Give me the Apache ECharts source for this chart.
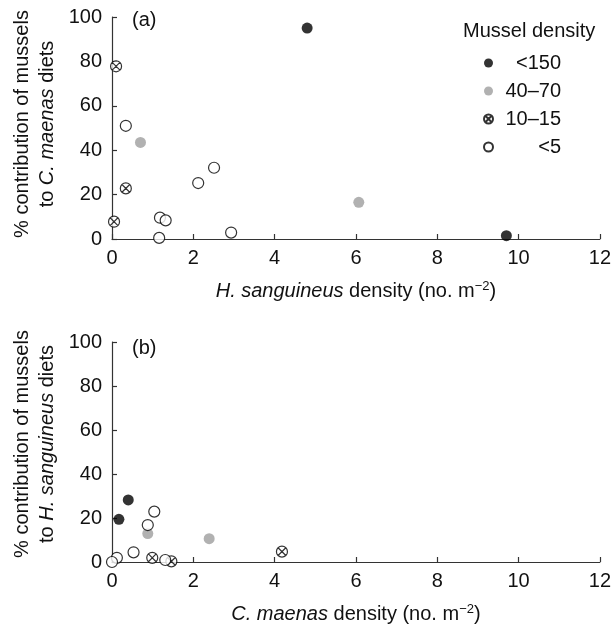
<!DOCTYPE html>
<html>
<head>
<meta charset="utf-8">
<script src="https://cdn.jsdelivr.net/npm/echarts@6/dist/echarts.min.js"></script>
<style>
  html, body { margin: 0; padding: 0; background: #fff; }
  #main { width: 614px; height: 627px; }
</style>
</head>
<body>
<div id="main"></div>
<script>
// mussel density classes (legend)
const classNames = ['<150', '40–70', '10–15', '<5'];

// panel (a): H. sanguineus density vs % mussels in C. maenas diets
const aBlackX = [4.8, 9.7];
const aBlackY = [95, 1.5];
const aGrayX = [0.7, 6.07];
const aGrayY = [43.5, 16.5];
const aCrossX = [0.1, 0.34, 0.05];
const aCrossY = [77.8, 22.8, 7.8];
const aOpenX = [0.34, 2.12, 2.51, 1.18, 1.32, 1.16, 2.93];
const aOpenY = [51, 25.2, 32.1, 9.6, 8.4, 0.5, 2.9];

// panel (b): C. maenas density vs % mussels in H. sanguineus diets
const bBlackX = [0.17, 0.4];
const bBlackY = [19.4, 28.2];
const bGrayX = [0.88, 2.39];
const bGrayY = [12.9, 10.6];
const bCrossX = [0.99, 1.46, 4.18];
const bCrossY = [1.9, 0.3, 4.7];
const bOpenX = [1.04, 0.88, 0.53, 0.12, 0.0, 1.31];
const bOpenY = [22.9, 16.8, 4.4, 1.9, 0.0, 0.9];

const xTicks = [0, 2, 4, 6, 8, 10, 12];
const yTicks = [0, 20, 40, 60, 80, 100];

// 带叉的圆圈
const crossSymbol = 'path://M10,0A10,10,0,1,1,10,20A10,10,0,1,1,10,0ZM2.93,2.93L17.07,17.07M17.07,2.93L2.93,17.07';

function zip(xs, ys) {
    return xs.map((x, i) => [x, ys[i]]);
}

const ink = '#111';
const font = '"Liberation Sans", Arial, Helvetica, sans-serif';
const fs = 20;

function xAxisFor(gridIndex, species) {
    return {
        type: 'value', gridIndex: gridIndex,
        min: xTicks[0], max: xTicks[xTicks.length - 1], interval: 2,
        axisLine: { lineStyle: { color: '#333', width: 1.2 } },
        axisTick: { inside: true, length: 5, lineStyle: { color: '#333', width: 1.2 } },
        splitLine: { show: false },
        axisLabel: { color: ink, fontSize: fs, fontFamily: font, margin: 9 },
        name: '{i|' + species + '}{n| density (no. m}{s|−2}{n|)}',
        nameLocation: 'middle', nameGap: 41,
        nameTextStyle: {
            rich: {
                i: { fontSize: fs, fontStyle: 'italic', fontFamily: font, color: ink },
                n: { fontSize: fs, fontFamily: font, color: ink },
                s: { fontSize: 13, fontFamily: font, color: ink, padding: [0, 0, 10, 0] }
            }
        }
    };
}

function yAxisFor(gridIndex, species, shift) {
    return {
        type: 'value', gridIndex: gridIndex,
        min: yTicks[0], max: yTicks[yTicks.length - 1], interval: 20,
        axisLine: { show: true, lineStyle: { color: '#333', width: 1.2 } },
        axisTick: { show: true, inside: true, length: 5, lineStyle: { color: '#333', width: 1.2 } },
        splitLine: { show: false },
        axisLabel: { color: ink, fontSize: fs, fontFamily: font, margin: 10 },
        name: '{n|% contribution of mussels}\n{n|to }{i|' + species + '}{n| diets}',
        nameLocation: 'middle', nameGap: 48, nameRotate: 90,
        nameTextStyle: {
            align: 'center',
            padding: [0, 0, 0, shift],
            rich: {
                i: { fontSize: fs, fontStyle: 'italic', fontFamily: font, color: ink, lineHeight: 25 },
                n: { fontSize: fs, fontFamily: font, color: ink, lineHeight: 25 }
            }
        }
    };
}

const styles = [
    { symbol: 'circle', size: 11, itemStyle: { color: '#000', borderColor: '#000', borderWidth: 0 } },
    { symbol: 'circle', size: 11, itemStyle: { color: '#9d9d9d', borderColor: '#9d9d9d', borderWidth: 0 } },
    { symbol: crossSymbol, size: 11, itemStyle: { color: '#fff', borderColor: '#000', borderWidth: 1.2 } },
    { symbol: 'circle', size: 11, itemStyle: { color: '#fff', borderColor: '#000', borderWidth: 1.2 } }
];

const panelData = [
    [zip(aBlackX, aBlackY), zip(aGrayX, aGrayY), zip(aCrossX, aCrossY), zip(aOpenX, aOpenY)],
    [zip(bBlackX, bBlackY), zip(bGrayX, bGrayY), zip(bCrossX, bCrossY), zip(bOpenX, bOpenY)]
];

let series = [];
panelData.forEach(function (groups, p) {
    groups.forEach(function (pts, k) {
        series.push({
            type: 'scatter', name: classNames[k],
            xAxisIndex: p, yAxisIndex: p,
            symbol: styles[k].symbol, symbolSize: styles[k].size,
            itemStyle: styles[k].itemStyle,
            emphasis: { disabled: true },
            clip: false,
            data: pts,
            z: 3 + k
        });
    });
});

const myChart = echarts.init(document.getElementById('main'), null, { renderer: 'canvas' });

const option = {
    backgroundColor: '#fff',
    animation: false,
    title: [
        { text: '(a)', left: 127, top: 5, textStyle: { fontSize: fs, fontWeight: 'normal', fontFamily: font, color: ink } },
        { text: '(b)', left: 127, top: 333, textStyle: { fontSize: fs, fontWeight: 'normal', fontFamily: font, color: ink } },
        { text: 'Mussel density', left: 458, top: 16, textStyle: { fontSize: fs, fontWeight: 'normal', fontFamily: font, color: ink } }
    ],
    legend: {
        orient: 'vertical', left: 483, top: 53, padding: 0,
        itemWidth: 9, itemHeight: 9, itemGap: 8, selectedMode: false,
        data: classNames.map(function (n, k) {
            return { name: n, icon: styles[k].symbol };
        }),
        formatter: function (name) { return '{t|' + name + '}'; },
        textStyle: {
            rich: {
                t: { fontSize: fs, fontFamily: font, color: ink, width: 63, align: 'right', height: 20 }
            }
        }
    },
    grid: [
        { left: 112, top: 17, width: 488, height: 222 },
        { left: 112, top: 342, width: 488, height: 220 }
    ],
    xAxis: [xAxisFor(0, 'H. sanguineus'), xAxisFor(1, 'C. maenas')],
    yAxis: [yAxisFor(0, 'C. maenas', 8), yAxisFor(1, 'H. sanguineus', 16)],
    series: series
};
myChart.setOption(option);
</script>
</body>
</html>
